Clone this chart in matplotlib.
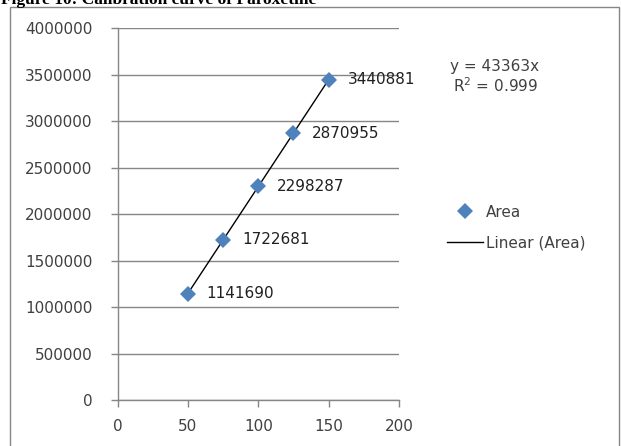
import numpy as np
import matplotlib
matplotlib.use("Agg")
import matplotlib.pyplot as plt
from matplotlib.patches import Rectangle

conc = [50, 75, 100, 125, 150]
area = [1141690, 1722681, 2298287, 2870955, 3440881]
xticks = [0, 50, 100, 150, 200]
yticks = [0, 500000, 1000000, 1500000, 2000000, 2500000, 3000000, 3500000, 4000000]
title = "Figure 10: Calibration curve of Paroxetine"
eq_text = "y = 43363x"
r2_text = "R$^2$ = 0.999"

W, H = 621, 446
fig = plt.figure(figsize=(W / 100, H / 100), dpi=100)
ax = fig.add_axes([117.5 / W, 1 - 400 / H, (399 - 117.5) / W, (400 - 28) / H])

gray = "#868686"
txt = "#404040"

# trendline
p = np.polyfit(conc, area, 1)
xl = np.array([min(conc), max(conc)])
ax.plot(xl, np.polyval(p, xl), color="black", lw=1.0, label="Linear (Area)", zorder=2)
ax.plot(conc, area, "D", color="#4F81BD", markersize=8.5, markeredgewidth=0, label="Area", zorder=3)

for xv, yv in zip(conc, area):
    ax.annotate(str(yv), (xv, yv), xytext=(13.5, 0), textcoords="offset points",
                va="center", ha="left", fontsize=11, color="#202020")

ax.set_xlim(0, 200)
ax.set_ylim(0, 4000000)
ax.set_xticks(xticks)
ax.set_yticks(yticks)
ax.set_xticklabels([str(v) for v in xticks])
ax.set_yticklabels([str(v) for v in yticks])
ax.grid(axis="y", color=gray, lw=1)
ax.set_axisbelow(True)
for s in ["top", "right"]:
    ax.spines[s].set_visible(False)
for s in ["left", "bottom"]:
    ax.spines[s].set_color(gray)
    ax.spines[s].set_linewidth(1)
ax.tick_params(axis="both", colors=gray, labelcolor=txt, labelsize=11, length=5, width=1)
ax.tick_params(axis="y", pad=13)
ax.tick_params(axis="x", pad=9)

# equation
fig.text(450 / W, 1 - 66 / H, eq_text, fontsize=11, color=txt, va="center", ha="left")
fig.text(453 / W, 1 - 86 / H, r2_text, fontsize=11, color=txt, va="center", ha="left")

# legend
h, l = ax.get_legend_handles_labels()
leg = fig.legend([h[1], h[0]], [l[1], l[0]], loc="upper left",
                 bbox_to_anchor=(433 / W, 1 - 191 / H), frameon=False,
                 fontsize=11, labelcolor=txt, handlelength=2.4, handletextpad=0.15,
                 labelspacing=1.0)

# outer border
fig.patches.append(Rectangle((10 / W, -0.1), (619 - 10) / W, 1.1 - 7 / H,
                             transform=fig.transFigure, fill=False, edgecolor=gray,
                             lw=1, clip_on=False))

fig.text(1 / W, 1 - 4 / H, title, fontsize=12.5, fontweight="bold",
         family="Liberation Serif", va="baseline", ha="left", color="black")

fig.savefig("out.png", dpi=100)
